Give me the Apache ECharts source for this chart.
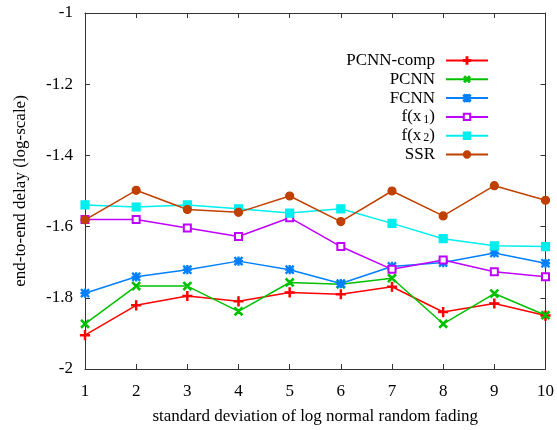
<!DOCTYPE html>
<html>
<head>
<meta charset="utf-8">
<script src="https://cdn.jsdelivr.net/npm/echarts@6/dist/echarts.min.js"></script>
<style>
html,body{margin:0;padding:0;background:#fff;}
#chart{width:557px;height:430px;}
</style>
</head>
<body>
<div id="chart"></div>
<script>
// x values: standard deviation of fading
var xs = [1, 2, 3, 4, 5, 6, 7, 8, 9, 10];
var yTicks = [-2, -1.8, -1.6, -1.4, -1.2, -1];
var seriesNames = ['PCNN-comp', 'PCNN', 'FCNN', 'f(x1)', 'f(x2)', 'SSR'];

var pcnnComp = [-1.905, -1.821, -1.795, -1.810, -1.785, -1.790, -1.769, -1.840, -1.816, -1.850];
var pcnn     = [-1.873, -1.767, -1.767, -1.838, -1.757, -1.762, -1.745, -1.873, -1.788, -1.849];
var fcnn     = [-1.787, -1.741, -1.721, -1.697, -1.721, -1.760, -1.712, -1.701, -1.674, -1.703];
var fx1      = [-1.580, -1.580, -1.604, -1.628, -1.575, -1.656, -1.720, -1.694, -1.727, -1.741];
var fx2      = [-1.539, -1.545, -1.539, -1.550, -1.562, -1.550, -1.591, -1.634, -1.654, -1.656];
var ssr      = [-1.581, -1.498, -1.552, -1.560, -1.514, -1.586, -1.500, -1.570, -1.485, -1.526];

var plus = 'path://M0,4.3L10,4.3L10,5.7L0,5.7Z M4.3,0L5.7,0L5.7,10L4.3,10Z';
var star = 'path://M0,4.3L10,4.3L10,5.7L0,5.7Z M4.3,0L5.7,0L5.7,10L4.3,10Z M1,0L10,9L9,10L0,1Z M9,0L10,1L1,10L0,9Z';

function pairs(ys){
    var out = [];
    for(var i=0;i<xs.length;i++){
        out.push([xs[i], ys[i]]);
    }
    return out;
}

function mk(name, ys, color, symbol, size, rotate){
    return {
        name: name,
        type: 'line',
        data: pairs(ys),
        symbol: symbol,
        symbolSize: size,
        symbolRotate: rotate || 0,
        showSymbol: true,
        lineStyle: {color: color, width: 1.5},
        itemStyle: {color: color, borderColor: color, borderWidth: 1.2},
        emphasis: {disabled: true},
        animation: false
    };
}

var font = '"Liberation Serif", "DejaVu Serif", serif';
var axisCol = '#333';
var fs = 17;

var chart = echarts.init(document.getElementById('chart'));
chart.setOption({
    animation: false,
    grid: {left: 85, right: 8, top: 13, bottom: 60, show: false},
    legend: {
        orient: 'vertical',
        right: 68,
        top: 52,
        padding: 0,
        align: 'right',
        itemWidth: 42,
        itemHeight: 8,
        itemGap: 1.8,
        data: seriesNames,
        textStyle: {
            fontFamily: font, fontSize: fs, color: '#000', lineHeight: 17, padding: [0, 6, 0, 0],
            rich: {
                sub: {fontFamily: font, fontSize: 12, color: '#000', lineHeight: 10, verticalAlign: 'bottom', padding: [5, 0, 0, 2]},
                n: {fontFamily: font, fontSize: fs, color: '#000', lineHeight: 17}
            }
        },
        formatter: function(name){
            if(name === 'f(x1)') return '{n|f(x}{sub|1}{n|)}';
            if(name === 'f(x2)') return '{n|f(x}{sub|2}{n|)}';
            return name;
        }
    },
    xAxis: [{
        type: 'value',
        min: 1, max: 10, interval: 1,
        name: 'standard deviation of log normal random fading',
        nameLocation: 'middle',
        nameGap: 39,
        nameTextStyle: {fontFamily: font, fontSize: fs, color: '#000'},
        axisLine: {show: true, onZero: false, lineStyle: {color: axisCol, width: 1}},
        axisTick: {show: true, inside: true, length: 5, lineStyle: {color: axisCol}},
        axisLabel: {fontFamily: font, fontSize: fs, color: '#000', margin: 14},
        splitLine: {show: false}
    }, {
        type: 'value',
        position: 'top',
        min: 1, max: 10, interval: 1,
        axisLine: {show: true, onZero: false, lineStyle: {color: axisCol, width: 1}},
        axisTick: {show: true, inside: true, length: 5, lineStyle: {color: axisCol}},
        axisLabel: {show: false},
        splitLine: {show: false}
    }],
    yAxis: [{
        type: 'value',
        min: yTicks[0], max: yTicks[yTicks.length - 1], interval: 0.2,
        name: 'end-to-end delay (log-scale)',
        nameLocation: 'middle',
        nameGap: 56,
        nameTextStyle: {fontFamily: font, fontSize: fs, color: '#000'},
        axisLine: {show: true, onZero: false, lineStyle: {color: axisCol, width: 1}},
        axisTick: {show: true, inside: true, length: 5, lineStyle: {color: axisCol}},
        axisLabel: {
            fontFamily: font, fontSize: fs, color: '#000', margin: 12,
            formatter: function(v){ return String(Math.round(v * 10) / 10); }
        },
        splitLine: {show: false}
    }, {
        type: 'value',
        position: 'right',
        min: yTicks[0], max: yTicks[yTicks.length - 1], interval: 0.2,
        axisLine: {show: true, onZero: false, lineStyle: {color: axisCol, width: 1}},
        axisTick: {show: true, inside: true, length: 5, lineStyle: {color: axisCol}},
        axisLabel: {show: false},
        splitLine: {show: false}
    }],
    series: [
        mk('PCNN-comp', pcnnComp, '#ff0000', plus, 9),
        mk('PCNN', pcnn, '#00c000', plus, 10, 45),
        mk('FCNN', fcnn, '#0080ff', star, 8),
        mk('f(x1)', fx1, '#c000ff', 'emptyRect', 7),
        mk('f(x2)', fx2, '#00eeee', 'rect', 8),
        mk('SSR', ssr, '#c04000', 'circle', 8)
    ]
});
</script>
</body>
</html>
